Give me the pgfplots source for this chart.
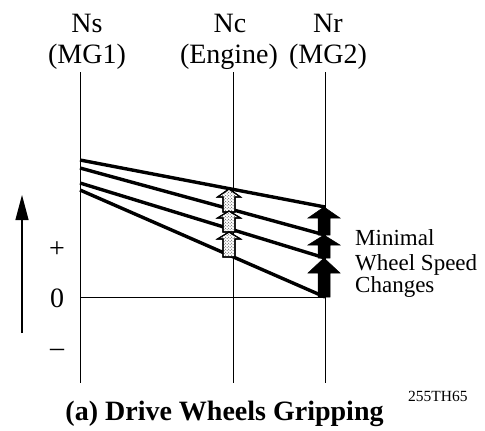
\documentclass[border=0pt]{standalone}
\usepackage{pgfplots}
\pgfplotsset{compat=1.18}
\usepackage{fontspec}
\setmainfont{Liberation Serif}
\usetikzlibrary{patterns,arrows.meta}
\newcommand{\fbig}{\fontsize{28bp}{30bp}\selectfont}
\newcommand{\fmid}{\fontsize{23bp}{25bp}\selectfont}
\begin{document}
\begin{tikzpicture}
\begin{axis}[x=1bp,y=1bp,xmin=-80,xmax=405,ymin=-133,ymax=297,
  hide axis, clip=false]
% invisible frame
\addplot[draw=none] coordinates {(-80,-133) (405,297)};
% vertical speed axes: Ns, Nc, Nr
\addplot[line width=0.9bp] coordinates {(0,225) (0,-86)};
\addplot[line width=0.9bp] coordinates {(153,225) (153,-86)};
\addplot[line width=0.9bp] coordinates {(245,225) (245,-86)};
% zero line
\addplot[line width=0.9bp] coordinates {(0,0) (245,0)};
% lever lines
\addplot[line width=3.4bp] coordinates {(0,137) (245,90)};
\addplot[line width=3.4bp] coordinates {(0,129) (245,62)};
\addplot[line width=3.4bp] coordinates {(0,114) (245,39)};
\addplot[line width=3.4bp] coordinates {(0,107) (245,0)};
% left speed arrow
\addplot[line width=1.2bp,-{Triangle[length=25bp,width=13bp]}] coordinates {(-58,-36) (-58,102)};
% hollow stippled arrows at Nc (top to bottom)
\addplot[fill=white,draw=black,line width=1.1bp,postaction={pattern=crosshatch dots,pattern color=black!80}]
  coordinates {(143,85) (143,100) (137.5,100) (149,108) (160.5,100) (155,100) (155,85)} -- cycle;
\addplot[fill=white,draw=black,line width=1.1bp,postaction={pattern=crosshatch dots,pattern color=black!80}]
  coordinates {(143,65) (143,79) (137.5,79) (149,86) (160.5,79) (155,79) (155,65)} -- cycle;
\addplot[fill=white,draw=black,line width=1.1bp,postaction={pattern=crosshatch dots,pattern color=black!80}]
  coordinates {(143,40) (143,58) (137.5,58) (149,65) (160.5,58) (155,58) (155,40)} -- cycle;
% black arrows at Nr
\addplot[fill=black,draw=black,line width=0.5bp]
  coordinates {(238,62) (238,79) (228,79) (244,90) (260,79) (250,79) (250,62)} -- cycle;
\addplot[fill=black,draw=black,line width=0.5bp]
  coordinates {(238,39) (238,52) (228,52) (244,62) (260,52) (250,52) (250,39)} -- cycle;
\addplot[fill=black,draw=black,line width=0.5bp]
  coordinates {(238,0) (238,24) (228,24) (244,39) (260,24) (250,24) (250,0)} -- cycle;
% labels
\node[anchor=base,inner sep=0,font=\fbig] at (axis cs:7,264) {Ns};
\node[anchor=base,inner sep=0,font=\fbig] at (axis cs:7,234) {(MG1)};
\node[anchor=base,inner sep=0,font=\fbig] at (axis cs:150,264) {Nc};
\node[anchor=base,inner sep=0,font=\fbig] at (axis cs:149,234) {(Engine)};
\node[anchor=base,inner sep=0,font=\fbig] at (axis cs:248,264) {Nr};
\node[anchor=base,inner sep=0,font=\fbig] at (axis cs:248,234) {(MG2)};
\node[anchor=center,inner sep=0,font=\fbig] at (axis cs:-23,47) {+};
\node[anchor=base,inner sep=0,font=\fbig] at (axis cs:-23,-10) {0};
\node[anchor=base,inner sep=0,font=\fbig] at (axis cs:-23,-59) {–};
\node[anchor=base west,inner sep=0,font=\fmid] at (axis cs:275,52) {Minimal};
\node[anchor=base west,inner sep=0,font=\fmid] at (axis cs:275,27) {Wheel Speed};
\node[anchor=base west,inner sep=0,font=\fmid] at (axis cs:275,5) {Changes};
\node[anchor=base,inner sep=0,font=\fbig\bfseries] at (axis cs:144.5,-123) {(a) Drive Wheels Gripping};
\node[anchor=base west,inner sep=0,font=\fontsize{15.5bp}{17bp}\selectfont] at (axis cs:328,-104) {255TH65};
\end{axis}
\end{tikzpicture}
\end{document}
